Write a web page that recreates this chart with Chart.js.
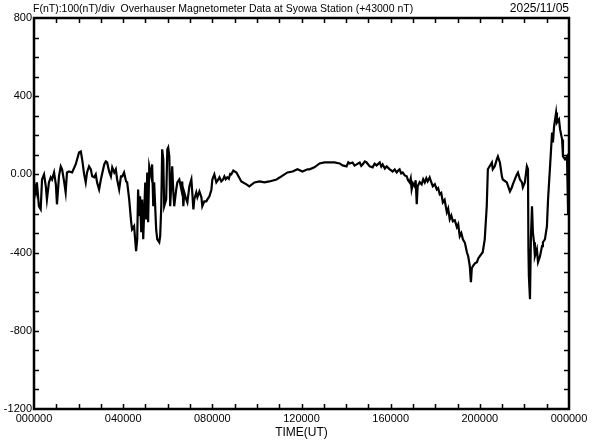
<!DOCTYPE html>
<html><head><meta charset="utf-8">
<script src="https://cdn.jsdelivr.net/npm/chart.js@4/dist/chart.umd.min.js"></script>
<style>html,body{margin:0;padding:0;background:#fff}canvas{display:block}</style>
</head><body>
<canvas id="c" width="592" height="440"></canvas>
<script>
const titleText = "F(nT):100(nT)/div  Overhauser Magnetometer Data at Syowa Station (+43000 nT)";
const dateText = "2025/11/05";
const axisTitle = "TIME(UT)";
const xTickLabels = {0:"000000",4:"040000",8:"080000",12:"120000",16:"160000",20:"200000",24:"000000"};
const yTickLabels = {"800":"800","400":"400","0":"0.00","-400":"-400","-800":"-800","-1200":"-1200"};

// [hour UT, nT offset from 43000]
const seg00_04 = [[0,-41],[0.08,-92],[0.13,-41],[0.22,-163],[0.30,-179],[0.36,-26],[0.45,0],[0.53,-61],[0.58,-128],[0.67,-41],[0.75,-15],[0.81,-26],[0.90,10],[0.98,-51],[1.03,-153],[1.12,-10],[1.20,41],[1.26,26],[1.35,-36],[1.42,-92],[1.48,10],[1.57,15],[1.71,10],[1.87,51],[2.02,112],[2.10,117],[2.16,77],[2.25,0],[2.32,-41],[2.38,10],[2.47,41],[2.55,26],[2.61,-10],[2.70,-15],[2.77,0],[2.83,-41],[2.92,-77],[3.00,-26],[3.15,51],[3.22,66],[3.28,61],[3.37,15],[3.45,-10],[3.51,36],[3.60,10],[3.67,26],[3.73,-26],[3.82,-77],[3.90,-10]];
const seg04_08 = [[3.96,-10],[4.04,10],[4.13,-36],[4.18,-41],[4.27,-128],[4.36,-245],[4.40,-281],[4.49,-265],[4.58,-393],[4.63,-332],[4.67,-77],[4.72,-214],[4.76,-112],[4.81,-296],[4.85,-128],[4.90,-332],[4.99,-41],[5.03,-230],[5.08,10],[5.12,-245],[5.17,41],[5.26,-10],[5.30,51],[5.35,-163],[5.39,-41],[5.48,-281],[5.53,-332],[5.62,-347],[5.66,-316],[5.71,-163],[5.75,128],[5.80,77],[5.84,-163],[5.93,-128],[5.98,128],[6.02,138],[6.07,92],[6.11,-163],[6.16,-41],[6.20,41],[6.25,-92],[6.29,-163],[6.38,-77],[6.43,-41],[6.52,-26],[6.61,-77],[6.65,-36],[6.70,-163],[6.74,-92],[6.83,-128],[6.88,-143],[6.97,-61],[7.06,-26],[7.10,-92],[7.15,-179],[7.19,-128],[7.28,-92],[7.33,-117],[7.42,-87],[7.51,-117],[7.55,-163],[7.64,-138],[7.73,-138],[7.78,-128],[7.87,-112],[7.96,-77]];
const seg08_12 = [[8.00,-26],[8.09,0],[8.18,-41],[8.27,-26],[8.32,-15],[8.40,-36],[8.47,-28],[8.54,-10],[8.60,-25],[8.67,-15],[8.74,-22],[8.80,2],[8.85,0],[8.94,20],[9.08,10],[9.30,-36],[9.53,-51],[9.66,-61],[9.89,-41],[10.11,-36],[10.34,-41],[10.56,-36],[10.88,-26],[11.10,-10],[11.37,10],[11.60,15],[11.82,26],[12.04,15]];
const seg12_16 = [[12.27,26],[12.36,26],[12.58,36],[12.81,56],[13.03,61],[13.26,61],[13.48,61],[13.71,56],[13.84,46],[14.02,41],[14.10,62],[14.16,56],[14.29,61],[14.38,45],[14.47,51],[14.61,61],[14.68,44],[14.74,51],[14.84,66],[14.92,61],[15.06,41],[15.19,36],[15.28,55],[15.37,46],[15.51,61],[15.58,40],[15.64,51],[15.74,30],[15.82,41],[15.96,26]];
const seg16_20 = [[16.09,15],[16.18,25],[16.27,10],[16.34,20],[16.40,26],[16.47,5],[16.54,10],[16.63,-5],[16.72,-10],[16.78,-30],[16.85,-41],[16.90,-20],[16.94,-77],[17.00,-45],[17.08,-61],[17.12,-30],[17.17,-153],[17.21,-61],[17.30,-40],[17.39,-51],[17.46,-25],[17.53,-41],[17.60,-20],[17.66,-36],[17.75,-15],[17.82,-40],[17.89,-61],[17.98,-50],[18.07,-77],[18.13,-70],[18.20,-102],[18.27,-95],[18.34,-143],[18.42,-130],[18.52,-194],[18.58,-175],[18.65,-230],[18.72,-210],[18.79,-240],[18.88,-235],[18.97,-270],[19.03,-255],[19.10,-316],[19.17,-300],[19.24,-332],[19.33,-350],[19.42,-398],[19.48,-420],[19.55,-469],[19.60,-551],[19.64,-480],[19.69,-469],[19.78,-455],[19.87,-449],[19.93,-430],[20.00,-418]];
const seg20_24 = [[20.13,-398],[20.22,-332],[20.31,-163],[20.36,26],[20.54,61],[20.58,26],[20.67,41],[20.76,77],[20.81,92],[20.90,61],[20.99,-10],[21.03,-26],[21.21,-41],[21.35,-87],[21.44,-66],[21.48,-51],[21.66,0],[21.71,10],[21.80,-26],[21.89,-41],[21.93,-66],[22.02,-41],[22.11,41],[22.16,26],[22.18,-383],[22.20,-520],[22.25,-638],[22.29,-332],[22.34,-163],[22.38,-296],[22.43,-347],[22.47,-418],[22.56,-383],[22.61,-449],[22.70,-418],[22.79,-367],[22.83,-347],[22.92,-332],[23.01,-265],[23.06,-128],[23.15,41],[23.24,214],[23.28,163],[23.33,245],[23.42,316],[23.46,265],[23.55,281],[23.60,230],[23.69,179],[23.73,92],[23.82,77],[23.91,92],[23.96,-204]];

const series = [].concat(seg00_04, seg04_08, seg08_12, seg12_16, seg16_20, seg20_24);

Chart.defaults.font.family = "'Liberation Sans', Arial, sans-serif";
Chart.defaults.font.size = 11;
Chart.defaults.color = '#000';

const framePlugin = {
  id: 'frame',
  afterDatasetsDraw(chart) {
    const {ctx, chartArea: a, scales: {x, y}} = chart;
    ctx.save();
    ctx.strokeStyle = '#000';
    ctx.lineWidth = 1.5;
    const tl = 5;
    ctx.beginPath();
    for (let h = 1; h < 24; h++) {
      const px = Math.round(x.getPixelForValue(h)) + 0.5;
      ctx.moveTo(px, a.top); ctx.lineTo(px, a.top + tl);
      ctx.moveTo(px, a.bottom); ctx.lineTo(px, a.bottom - tl);
    }
    for (let v = -1100; v < 800; v += 100) {
      const py = Math.round(y.getPixelForValue(v)) + 0.5;
      ctx.moveTo(a.left, py); ctx.lineTo(a.left + tl, py);
      ctx.moveTo(a.right, py); ctx.lineTo(a.right - tl, py);
    }
    ctx.stroke();
    ctx.lineWidth = 2.5;
    ctx.strokeRect(a.left, a.top, a.right - a.left, a.bottom - a.top);
    ctx.fillStyle = '#000';
    ctx.textBaseline = 'middle';
    ctx.textAlign = 'left';
    ctx.font = "10.5px 'Liberation Sans', Arial, sans-serif";
    ctx.fillText(titleText, 33, 9);
    ctx.textAlign = 'right';
    ctx.font = "12px 'Liberation Sans', Arial, sans-serif";
    ctx.fillText(dateText, 569, 9);
    ctx.restore();
  }
};

new Chart(document.getElementById('c'), {
  type: 'line',
  data: { datasets: [{
    data: series.map(([h, v]) => ({x: h, y: v})),
    borderColor: '#000', borderWidth: 2.2, pointRadius: 0, tension: 0, fill: false
  }]},
  options: {
    responsive: false, animation: false,
    layout: { padding: { top: 18, right: 23, bottom: 0, left: 0 } },
    plugins: { legend: { display: false }, tooltip: { enabled: false } },
    scales: {
      x: {
        type: 'linear', min: 0, max: 24,
        grid: { display: false, drawTicks: false }, border: { display: false },
        ticks: { stepSize: 4, autoSkip: false, maxRotation: 0, padding: 3, color: '#000',
                 font: { size: 11 }, callback: v => xTickLabels[v] ?? '' },
        title: { display: true, text: axisTitle, color: '#000', font: { size: 12 }, padding: { top: 0, bottom: 0 } },
        afterFit: s => { s.height = 31; }
      },
      y: {
        min: -1200, max: 800,
        grid: { display: false, drawTicks: false }, border: { display: false },
        ticks: { stepSize: 400, padding: 2, color: '#000', font: { size: 11 },
                 callback: v => yTickLabels[String(v)] ?? '' },
        afterFit: s => { s.width = 34; }
      }
    }
  },
  plugins: [framePlugin]
});
</script>
</body></html>
